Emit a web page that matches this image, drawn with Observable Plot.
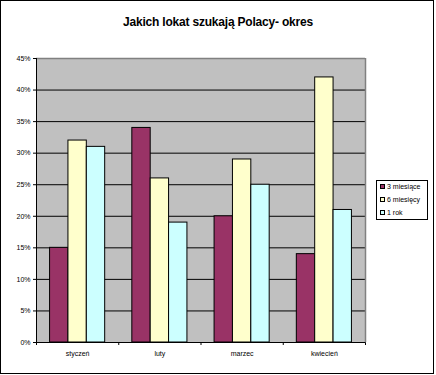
<!DOCTYPE html>
<html>
<head>
<meta charset="utf-8">
<script src="https://cdn.jsdelivr.net/npm/d3@7"></script>
<script src="https://cdn.jsdelivr.net/npm/@observablehq/plot@0.6"></script>
<style>
  html, body { margin: 0; padding: 0; background: #fff; }
  #wrap { position: relative; width: 436px; height: 375px; font-family: "Liberation Sans", Arial, sans-serif; overflow: hidden; }
  #frame { position: absolute; left: 0; top: 0; width: 434px; height: 374px; box-sizing: border-box; border: 1px solid #000; pointer-events: none; }
  #title { position: absolute; left: 0; width: 436px; top: 16px; text-align: center; font-weight: bold; font-size: 12px; line-height: 12px; letter-spacing: -0.2px; }
  #chart { position: absolute; left: 0; top: 0; }
  #legend { position: absolute; left: 376px; top: 180px; width: 52px; height: 40px; box-sizing: border-box; border: 1px solid #000; background: #fff; font-size: 7px; }
  .item { position: absolute; left: 3px; height: 8px; line-height: 8px; white-space: nowrap; }
  .sw { display: inline-block; width: 5px; height: 5px; border: 1px solid #000; box-sizing: border-box; vertical-align: middle; margin-right: 2px; position: relative; top: -1px; }
</style>
</head>
<body>
<div id="wrap">
  <div id="chart"></div>
  <div id="title">Jakich lokat szukają Polacy- okres</div>
  <div id="legend"></div>
  <div id="frame"></div>
</div>
<script>
const categories = ["styczeń", "luty", "marzec", "kwiecień"];
const series = ["3 miesiące", "6 miesięcy", "1 rok"];
const v3m = [15, 34, 20, 14];
const v6m = [32, 26, 29, 42];
const v1r = [31, 19, 25, 21];
const colors = ["#993366", "#FFFFCC", "#CCFFFF"];
const yTicks = [0, 5, 10, 15, 20, 25, 30, 35, 40, 45];

const valuesBySeries = [v3m, v6m, v1r];
const rows = [];
series.forEach((s, j) => {
  categories.forEach((c, i) => {
    rows.push({ category: c, ci: i, series: s, sj: j, value: valuesBySeries[j][i] });
  });
});

// grouped bar layout within each category unit
const groupPad = 0.165, barW = (1 - 2 * groupPad) / series.length;

const chart = Plot.plot({
  width: 436,
  height: 375,
  marginLeft: 36,
  marginRight: 71,
  marginTop: 58,
  marginBottom: 33,
  style: { fontFamily: "'Liberation Sans', Arial, sans-serif", fontSize: "7px", background: "transparent", color: "#000" },
  x: { type: "linear", domain: [0, categories.length], ticks: d3.range(categories.length + 1), tickSize: 3, tickFormat: () => "" },
  y: { domain: [0, 45], ticks: yTicks, tickSize: 3, tickPadding: 3, tickFormat: d => d + "%" , label: null},
  color: { domain: series, range: colors },
  marks: [
    Plot.frame({ fill: "#c0c0c0" }),
    Plot.ruleY(yTicks.filter(t => t > 0 && t < 45), { stroke: "#000", strokeWidth: 1 }),
    Plot.ruleY([45], { stroke: "#808080", strokeWidth: 1.5 }),
    Plot.ruleX([categories.length], { stroke: "#808080", strokeWidth: 1.5 }),
    Plot.rectY(rows, {
      x1: d => d.ci + groupPad + d.sj * barW,
      x2: d => d.ci + groupPad + (d.sj + 1) * barW,
      y1: 0,
      y2: "value",
      fill: "series",
      stroke: "#000",
      strokeWidth: 1
    }),
    Plot.ruleX([0], { stroke: "#000" }),
    Plot.ruleY([0], { stroke: "#000" }),
    Plot.text(categories, { x: (d, i) => i + 0.5, y: 0, dy: 11, text: d => d, fill: "#000", lineAnchor: "middle" })
  ]
});
document.getElementById("chart").appendChild(chart);

const legend = document.getElementById("legend");
series.forEach((s, j) => {
  const it = document.createElement("div");
  it.className = "item";
  it.style.top = (2 + j * 13) + "px";
  const sw = document.createElement("span");
  sw.className = "sw";
  sw.style.background = colors[j];
  it.appendChild(sw);
  it.appendChild(document.createTextNode(s));
  legend.appendChild(it);
});
</script>
</body>
</html>
